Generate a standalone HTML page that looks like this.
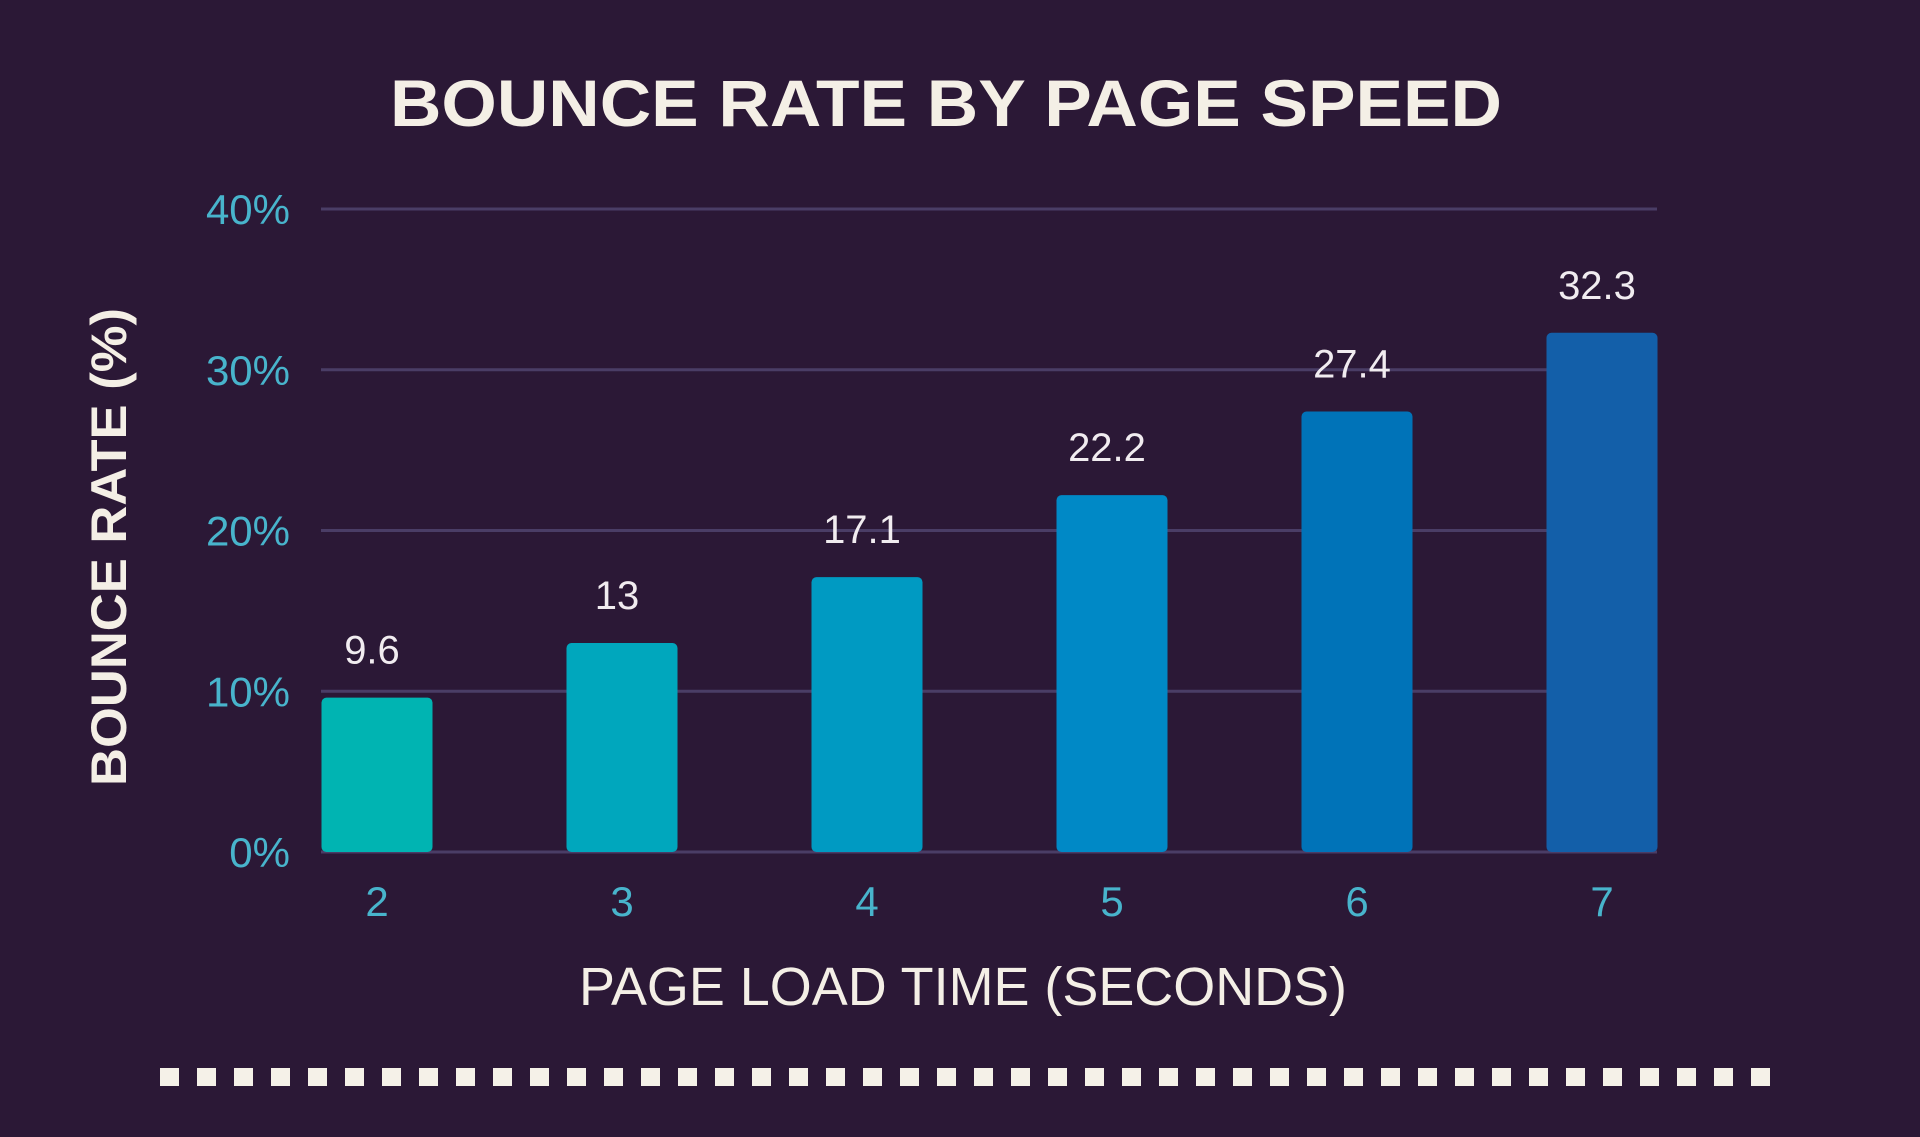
<!DOCTYPE html>
<html><head><meta charset="utf-8"><style>
html,body{margin:0;padding:0;background:#2b1836;}
svg{display:block;}
text{font-family:"Liberation Sans",sans-serif;}
</style></head><body>
<svg id="chart" width="1920" height="1137" viewBox="0 0 1920 1137" xmlns="http://www.w3.org/2000/svg">
<rect x="0" y="0" width="1920" height="1137" fill="#2b1836"/>
<text x="946" y="126" text-anchor="middle" font-size="66" font-weight="bold" fill="#f4efe6" textLength="1112" lengthAdjust="spacingAndGlyphs">BOUNCE RATE BY PAGE SPEED</text>
<g id="grid"></g>
<g id="bars"></g>
<g id="yticks"></g>
<g id="xticks"></g>
<text transform="translate(126,547) rotate(-90)" text-anchor="middle" font-size="50" font-weight="bold" fill="#f4efe6" textLength="478" lengthAdjust="spacingAndGlyphs">BOUNCE RATE (%)</text>
<text x="963" y="1005" text-anchor="middle" font-size="54" fill="#f4efe6" textLength="768" lengthAdjust="spacingAndGlyphs">PAGE LOAD TIME (SECONDS)</text>
<g id="dots"></g>
</svg>
<script>
const categories = ["2","3","4","5","6","7"];
const values = [9.6, 13, 17.1, 22.2, 27.4, 32.3];
const valueLabels = ["9.6","13","17.1","22.2","27.4","32.3"];
const yTicks = [0, 10, 20, 30, 40];
const yTickLabels = ["0%","10%","20%","30%","40%"];
const barColors = ["#00b4b2","#00a7bd","#009ac2","#0089c6","#0073b8","#135fa9"];

const NS = "http://www.w3.org/2000/svg";
const plotLeft = 321, plotRight = 1657, plotTop = 209, plotBottom = 852;
const yMax = 40;
function yScale(v){ return plotBottom - (v / yMax) * (plotBottom - plotTop); }
const firstCenter = 377, pitch = 245, barW = 111;
function xScale(i){ return firstCenter + i * pitch; }
function mk(tag, attrs){ const e = document.createElementNS(NS, tag); for (const k in attrs) e.setAttribute(k, attrs[k]); return e; }

const grid = document.getElementById('grid');
const yt = document.getElementById('yticks');
yTicks.forEach((t, i) => {
  const y = yScale(t);
  const l = mk('line', {x1: plotLeft, x2: plotRight, y1: y, y2: y, stroke: '#4a3d66', 'stroke-width': 3});
  
  
  grid.appendChild(l);
  const tx = mk('text', {x: 290, y: y + 15, 'text-anchor': 'end', 'font-size': 42, fill: '#48b4cc'});
  tx.textContent = yTickLabels[i];
  
  
  yt.appendChild(tx);
});

const bars = document.getElementById('bars');
const xt = document.getElementById('xticks');
categories.forEach((c, i) => {
  const cx = xScale(i);
  const top = yScale(values[i]);
  const r = mk('rect', {x: cx - barW/2, y: top, width: barW, height: plotBottom - top, rx: 5, fill: barColors[i]});
  
  
  bars.appendChild(r);
  const lb = mk('text', {x: cx - 5, y: top - 34, 'text-anchor': 'middle', 'font-size': 40, fill: '#f1ecf0'});
  lb.textContent = valueLabels[i];
  
  
  bars.appendChild(lb);
  const tk = mk('text', {x: cx, y: 916, 'text-anchor': 'middle', 'font-size': 42, fill: '#48b4cc'});
  tk.textContent = c;
  
  
  xt.appendChild(tk);
});

const dots = document.getElementById('dots');
for (let i = 0; i < 44; i++) {
  const d = mk('rect', {x: 160 + i * 37, y: 1068, width: 19, height: 18, fill: '#f5f1e8'});
  
  
  dots.appendChild(d);
}
</script>
</body></html>
